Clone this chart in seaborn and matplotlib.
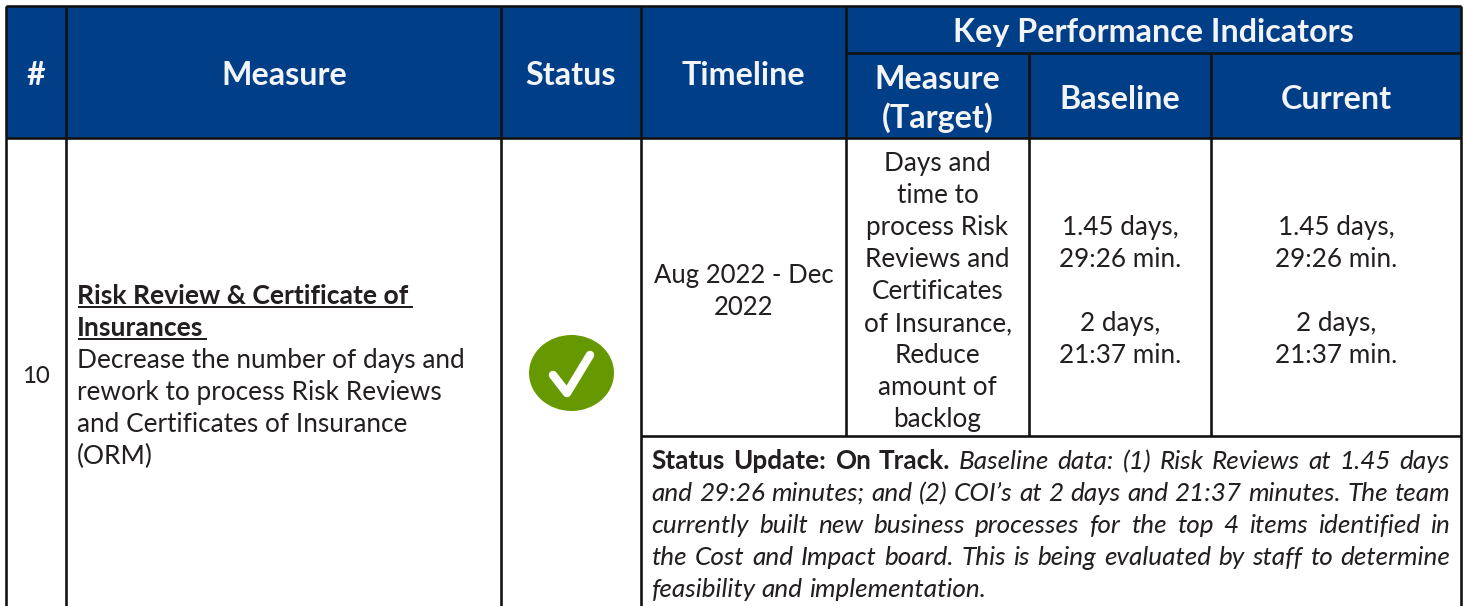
import matplotlib
matplotlib.use('Agg')
import matplotlib.pyplot as plt
from matplotlib.patches import Ellipse, Rectangle
import seaborn as sns

# table text
header_main = ['#', 'Measure', 'Status', 'Timeline']
kpi_title = 'Key Performance Indicators'
kpi_headers = ['Measure', '(Target)', 'Baseline', 'Current']
row_number = '10'
measure_title = ['Risk Review & Certificate of', 'Insurances']
measure_body = ['Decrease the number of days and', 'rework to process Risk Reviews',
                'and Certificates of Insurance', '(ORM)']
timeline = ['Aug 2022 - Dec', '2022']
target = ['Days and', 'time to', 'process Risk', 'Reviews and', 'Certificates',
          'of Insurance,', 'Reduce', 'amount of', 'backlog']
baseline = ['1.45 days,', '29:26 min.', '', '2 days,', '21:37 min.']
current = ['1.45 days,', '29:26 min.', '', '2 days,', '21:37 min.']
status_bold = 'Status Update: On Track.'
status_lines = ['Baseline data: (1) Risk Reviews at 1.45 days',
                'and 29:26 minutes; and (2) COI\u2019s at 2 days and 21:37 minutes. The team',
                'currently built new business processes for the top 4 items identified in',
                'the Cost and Impact board. This is being evaluated by staff to determine',
                'feasibility and implementation.']

NAVY = '#003f87'
INK = '#231f20'
GREEN = '#669900'
px = 72 / 100
BODY = 26.15 * px
HEAD = 32.3 * px

sns.set_theme(style='white')
plt.rcParams['font.family'] = ['Lato', 'DejaVu Sans']
plt.rcParams['text.hinting'] = 'no_autohint'
plt.rcParams['text.hinting_factor'] = 8

fig = plt.figure(figsize=(14.66, 6.06), dpi=100)
ax = fig.add_axes([0, 0, 1, 1])
ax.set_xlim(0, 1466)
ax.set_ylim(606, 0)
ax.axis('off')

# header fills
ax.add_patch(Rectangle((6, 6), 1455, 132, color=NAVY, lw=0))

# grid lines
def vline(x, y0, y1):
    ax.plot([x, x], [y0, y1], color='#111111', lw=2.6 * px, solid_capstyle='butt')

def hline(y, x0, x1):
    ax.plot([x0, x1], [y, y], color='#111111', lw=2.6 * px, solid_capstyle='butt')

for x in [6, 66, 501, 641, 1461]:
    vline(x, 6, 606)
vline(846, 6, 436)
vline(1029, 53, 436)
vline(1211, 53, 436)
hline(6, 6, 1461)
hline(53, 846, 1461)
hline(138, 6, 1461)
hline(436, 641, 1461)

# header labels
def head(x, y, label):
    ax.text(x, y, label, color='#f2f4f8', fontsize=HEAD, fontweight='bold', ha='center', va='baseline')

for label, x in zip(header_main, [36, 284, 571, 743.5]):
    head(x, 85, label)
head(1153, 42, kpi_title)
head(937.5, 89, kpi_headers[0])
head(937.5, 128, kpi_headers[1])
head(1120, 109, kpi_headers[2])
head(1336, 109, kpi_headers[3])

# body cells
def centered(lines, x, y0, size=BODY):
    for i, line in enumerate(lines):
        ax.text(x, y0 + 32 * i, line, color=INK, fontsize=size, ha='center', va='baseline')

ax.text(36, 383, row_number, color=INK, fontsize=BODY * 0.92, ha='center', va='baseline')

for i, line in enumerate(measure_title):
    ax.text(77, 304 + 32 * i, line, color=INK, fontsize=BODY * 1.015, fontweight='bold', va='baseline')
ax.plot([78, 413], [307, 307], color=INK, lw=2 * px, solid_capstyle='butt')
ax.plot([78, 207], [339, 339], color=INK, lw=2 * px, solid_capstyle='butt')
for i, line in enumerate(measure_body):
    ax.text(77, 368 + 32 * i, line, color=INK, fontsize=BODY * 1.006, va='baseline')

centered(timeline, 744, 283, BODY * 0.985)
centered(target, 937.5, 171)
centered(baseline, 1120, 235)
centered(current, 1336, 235)

# status icon
ax.add_patch(Ellipse((571.5, 373), 85, 76, color=GREEN, lw=0))
ax.plot([553, 567, 590], [375, 393, 355], color='white', lw=8.5 * px,
        solid_capstyle='round', solid_joinstyle='round')

# justified status update text
renderer = fig.canvas.get_renderer()

def word_width(word, **kw):
    t = ax.text(0, 0, word, fontsize=BODY, **kw)
    w = t.get_window_extent(renderer).width
    t.remove()
    return w

LEFT, RIGHT = 651.5, 1450
bold_kw = {'fontweight': 'bold'}
italic_kw = {'fontstyle': 'italic'}
for i, line in enumerate(status_lines):
    words = [(w, bold_kw) for w in status_bold.split()] if i == 0 else []
    words += [(w, italic_kw) for w in line.split()]
    widths = [word_width(w, **kw) for w, kw in words]
    if i == len(status_lines) - 1:
        gap = 6
    else:
        gap = (RIGHT - LEFT - sum(widths)) / (len(words) - 1)
    x = LEFT
    for (w, kw), width in zip(words, widths):
        ax.text(x, 469 + 32 * i, w, color=INK, fontsize=BODY, va='baseline', **kw)
        x += width + gap

fig.savefig('out.png', dpi=100)
